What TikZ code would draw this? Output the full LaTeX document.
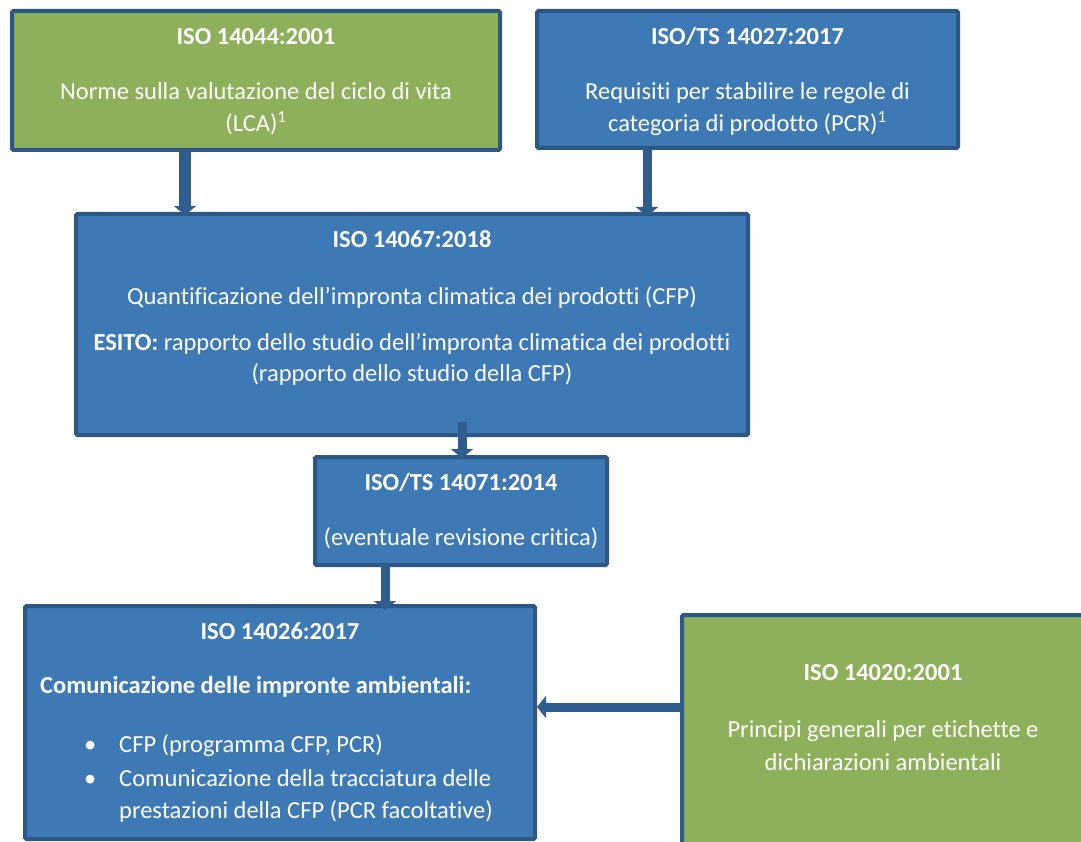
\documentclass[tikz,border=0pt]{standalone}
\usepackage{fontspec}
\setmainfont{Carlito}[Ligatures=NoCommon]
\usetikzlibrary{arrows.meta}
\definecolor{boxblue}{HTML}{3D79B4}
\definecolor{boxgreen}{HTML}{8FB05A}
\definecolor{edge}{HTML}{2C5786}
\definecolor{arrowc}{HTML}{2F5D8D}
\tikzset{
  bluebox/.style={draw=edge, line width=4pt, fill=boxblue, rounded corners=1.5pt, inner sep=0pt},
  greenbox/.style={draw=edge, line width=4pt, fill=boxgreen, rounded corners=1.5pt, inner sep=0pt},
  txt/.style={text=white, inner sep=0pt, anchor=base, font=\fontsize{24.5}{29}\selectfont},
  txtl/.style={txt, anchor=base west},
  arr/.style={draw=arrowc, line width=9pt, -{Triangle[width=22pt,length=9pt]}},
}
\begin{document}
\begin{tikzpicture}[x=1pt,y=-1pt]
\useasboundingbox (0,0) rectangle (1081,842);
\clip (0,0) rectangle (1081,842);
% boxes
\node[greenbox, minimum width=488pt, minimum height=139pt] (b1) at (256,80.5) {};
\node[bluebox, minimum width=421pt, minimum height=137pt] (b2) at (747.5,79.5) {};
\node[bluebox, minimum width=672pt, minimum height=221pt] (b3) at (412,324.5) {};
\node[bluebox, minimum width=292pt, minimum height=108pt] (b4) at (461,511) {};
\node[bluebox, minimum width=510pt, minimum height=233pt] (b5) at (280,722.5) {};
\node[greenbox, minimum width=404pt, minimum height=245pt] (b6) at (884,737.5) {};
% texts box 1
\node[txt] (t1a) at (256,45) {\textbf{ISO 14044:2001}};
\node[txt] (t1b) at (256,100) {Norme sulla valutazione del ciclo di vita};
\node[txt] (t1c) at (256,132) {(LCA)\textsuperscript{1}};
% box 2
\node[txt] (t2a) at (747.5,45) {\textbf{ISO/TS 14027:2017}};
\node[txt] (t2b) at (747.5,100) {Requisiti per stabilire le regole di};
\node[txt] (t2c) at (747.5,132) {categoria di prodotto (PCR)\textsuperscript{1}};
% box 3
\node[txt] (t3a) at (412,248) {\textbf{ISO 14067:2018}};
\node[txt] (t3b) at (412,304) {Quantificazione dell’impronta climatica dei prodotti (CFP)};
\node[txt] (t3c) at (412,350) {\textbf{ESITO:} rapporto dello studio dell’impronta climatica dei prodotti};
\node[txt] (t3d) at (412,381) {(rapporto dello studio della CFP)};
% box 4
\node[txt] (t4a) at (461,490) {\textbf{ISO/TS 14071:2014}};
\node[txt] (t4b) at (461,545) {(eventuale revisione critica)};
% box 5
\node[txt] (t5a) at (280,639) {\textbf{ISO 14026:2017}};
\node[txtl] (t5b) at (40,693) {\textbf{Comunicazione delle impronte ambientali:}};
\node[txtl] (t5c) at (84,752) {•};
\node[txtl] (t5d) at (119,752) {CFP (programma CFP, PCR)};
\node[txtl] (t5e) at (84,786) {•};
\node[txtl] (t5f) at (119,786) {Comunicazione della tracciatura delle};
\node[txtl] (t5g) at (119,818) {prestazioni della CFP (PCR facoltative)};
% box 6
\node[txt] (t6a) at (883,680) {\textbf{ISO 14020:2001}};
\node[txt] (t6b) at (883,737) {Principi generali per etichette e};
\node[txt] (t6c) at (883,770) {dichiarazioni ambientali};
% arrows
\draw[arr, line width=12pt] ([xshift=-71pt]b1.south) -- ([xshift=-227pt,yshift=-3pt]b3.north);
\draw[arr] ([xshift=-100.5pt]b2.south) -- ([xshift=235pt,yshift=-4pt]b3.north);
\draw[arr] ([xshift=50pt,yshift=15pt]b3.south) -- ([xshift=1pt,yshift=-3pt]b4.north);
\draw[arr] ([xshift=-76pt,yshift=3pt]b4.south) -- ([xshift=105pt,yshift=-6pt]b5.north);
\draw[arr] ([yshift=30.5pt]b6.west) -- ([yshift=15.5pt]b5.east);
\end{tikzpicture}
\end{document}
